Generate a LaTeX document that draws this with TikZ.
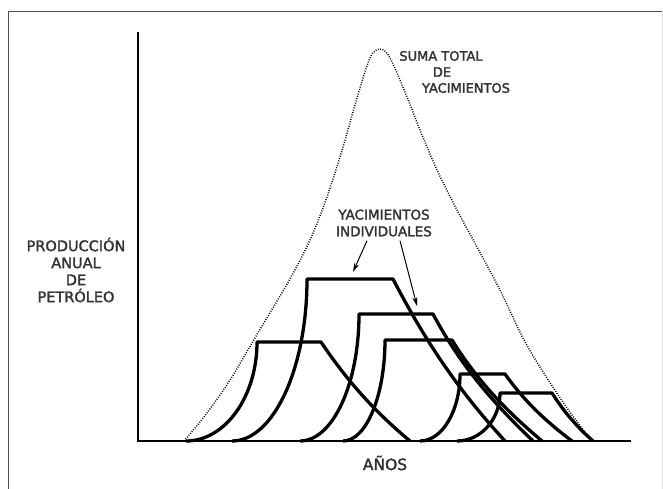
\documentclass[tikz,border=0pt]{standalone}
\usepackage{fontspec}
\setmainfont{DejaVu Sans}
\newfontfamily\rotulo{DejaVu Sans}[FakeBold=2]
\usetikzlibrary{arrows.meta}

\begin{document}
\begin{tikzpicture}[x=1pt,y=-1pt,
  marco/.style={draw=black!70,line width=1pt},
  eje/.style={draw,line width=1.5pt},
  yac/.style={draw,line width=3.3pt,line join=round},
  total/.style={draw,line width=1.5pt,dash pattern=on 0.9pt off 1.5pt},
  flecha/.style={-{Stealth[length=9pt,width=5pt]},line width=1pt},
  etq/.style={font=\rotulo\fontsize{13}{16}\selectfont,align=center,inner sep=0pt,text=black!80},
]
\useasboundingbox (0,0) rectangle (663,489);
% ---------- frame and axes ----------
\draw[marco] (8.5,489) -- (8.5,12) -- (662,12);
\draw[marco,draw=black!15] (662,12) -- (662,489);
\coordinate (o) at (138,441);
\coordinate (ytop) at (138,32);
\coordinate (xend) at (631,441);
\draw[eje] (ytop) -- (o) -- (xend);
% ---------- sum of all fields ----------
\draw[total] plot[smooth,tension=0.55] coordinates {
  (184,441) (207,413) (230,380) (252,343) (268,316) (290,279) (310,240) (327,197)
  (343,147) (357,98) (370,58) (380,49) (390,58) (407,97) (420,130) (437,170)
  (457,210) (477,247) (500,290) (524,340) (547,378) (567,408) (584,431) (591,441)};
% ---------- individual fields ----------
\draw[yac] (186,441) .. controls (225.2,441) and (257,396.6) .. (257,342) -- (321,342)
  .. controls (347.7,381.6) and (374.4,411.3) .. (410,441);
\draw[yac] (232,441) .. controls (273.4,441) and (307,368.4) .. (307,279) -- (393,279)
  .. controls (426.6,343.8) and (460.2,392.4) .. (505,441);
\draw[yac] (300,441) .. controls (332.6,441) and (359,384.1) .. (359,314) -- (433,314)
  .. controls (460,364.8) and (493,402.9) .. (533,441);
\draw[yac] (343,441) .. controls (366.2,441) and (385,395.8) .. (385,340) -- (452,340)
  .. controls (477,380.4) and (506,410.7) .. (542,441);
\draw[yac] (420,441) .. controls (442.1,441) and (460,411) .. (460,374) -- (505,374)
  .. controls (524,400.8) and (545.2,420.9) .. (572,441);
\draw[yac] (457,441) .. controls (480.7,441) and (500,419.5) .. (500,393) -- (552,393)
  .. controls (564.3,412.2) and (576.6,426.6) .. (593,441);
% ---------- labels ----------
\node[etq,font=\rotulo\fontsize{14.5}{17}\selectfont] (prod) at (76,270) {PRODUCCIÓN\\ANUAL\\DE\\PETRÓLEO};
\node[etq,font=\rotulo\fontsize{15.5}{18}\selectfont] (anos) at (385,463) {AÑOS};
\node[etq] (suma) at (441,56) {SUMA TOTAL};
\node[etq] (sumade) at (442,72) {DE};
\node[etq] (sumayac) at (466,88) {YACIMIENTOS};
\node[etq,font=\rotulo\fontsize{13.5}{16.7}\selectfont] (indiv) at (384,223) {YACIMIENTOS\\INDIVIDUALES};
% arrows to the fields
\coordinate (punta1) at (353,272);
\coordinate (punta2) at (417,306);
\draw[flecha] ([xshift=-17pt,yshift=-4pt]indiv.south) -- (punta1);
\draw[flecha] ([xshift=16pt,yshift=-4pt]indiv.south) -- (punta2);
\end{tikzpicture}
\end{document}
